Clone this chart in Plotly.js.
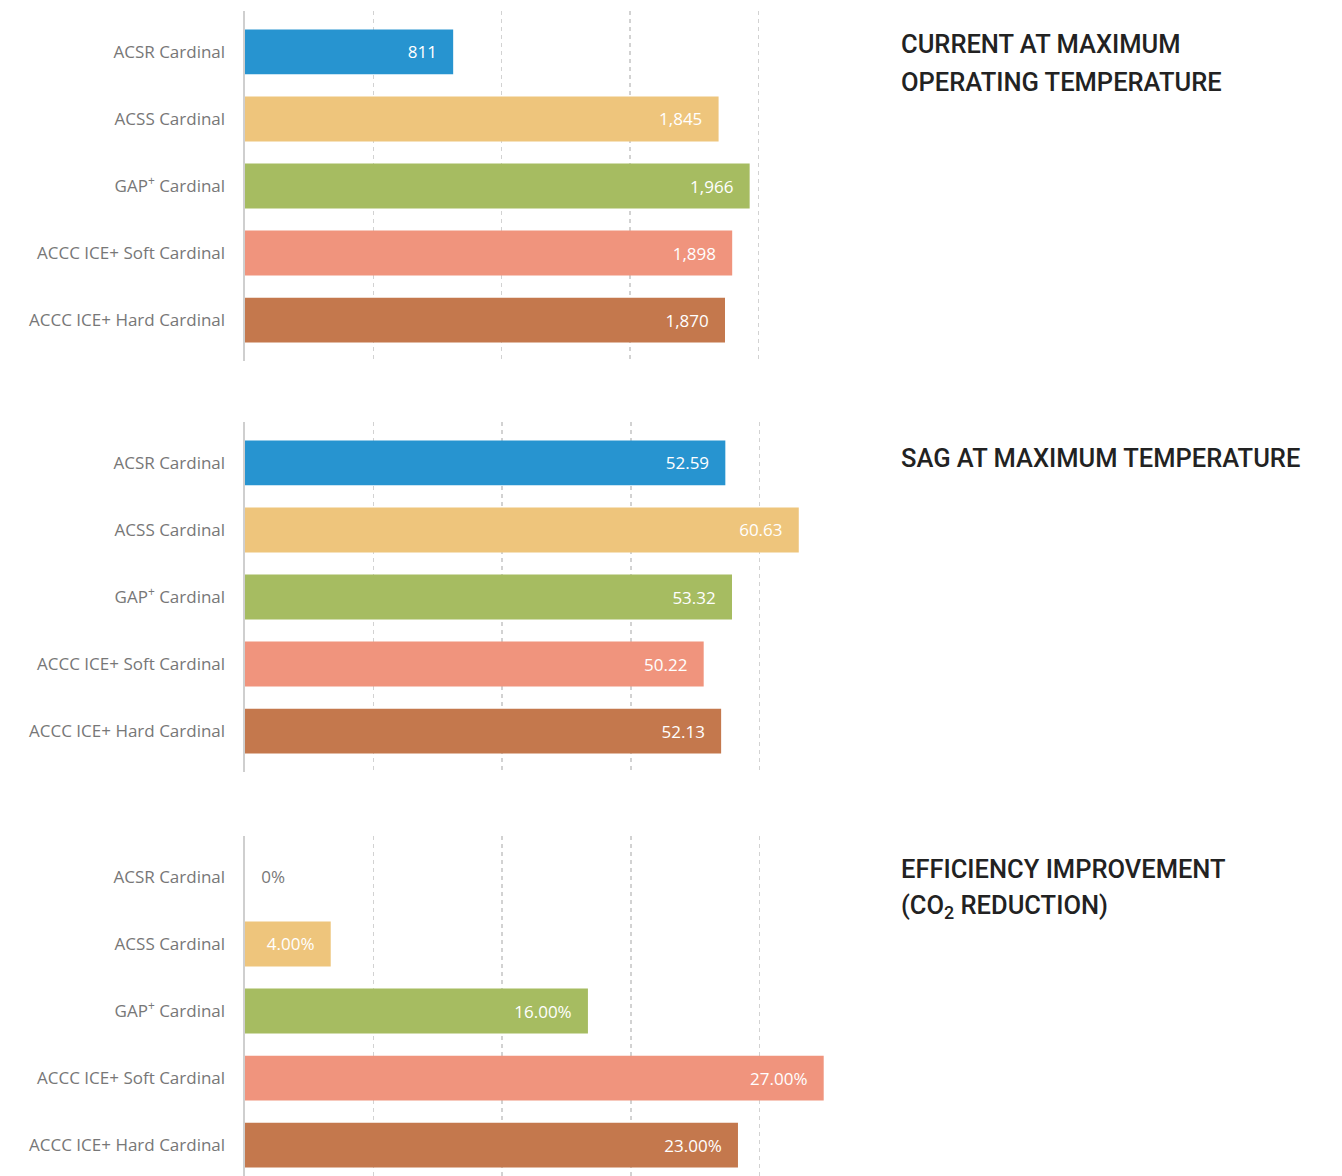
<!DOCTYPE html>
<html>
<head>
<meta charset="utf-8">
<script src="https://cdn.plot.ly/plotly-3.0.1.min.js"></script>
<style>html,body{margin:0;padding:0;background:#fff;}#chart{width:1342px;height:1176px;}</style>
</head>
<body>
<div id="chart"></div>
<script>
const categories = ["ACSR Cardinal", "ACSS Cardinal", "GAP<sup>+</sup> Cardinal", "ACCC ICE+ Soft Cardinal", "ACCC ICE+ Hard Cardinal"];
const colors = ["#2794d0", "#eec57c", "#a6bc61", "#f0947d", "#c4784d"];

const currentValues = [811, 1845, 1966, 1898, 1870];
const currentLabels = ["811", "1,845", "1,966", "1,898", "1,870"];
const currentTicks = [500, 1000, 1500, 2000];
const currentRange = [0, 2505];

const sagValues = [52.59, 60.63, 53.32, 50.22, 52.13];
const sagLabels = ["52.59", "60.63", "53.32", "50.22", "52.13"];
const sagTicks = [14.08, 28.16, 42.24, 56.32];
const sagRange = [0, 70.4];

const effValues = [0, 4, 16, 27, 23];
const effLabels = ["0%", "4.00%", "16.00%", "27.00%", "23.00%"];
const effTicks = [6, 12, 18, 24];
const effRange = [0, 30];

const titles = ["CURRENT AT MAXIMUM", "OPERATING TEMPERATURE", "SAG AT MAXIMUM TEMPERATURE", "EFFICIENCY IMPROVEMENT", "(CO<sub>2</sub> REDUCTION)"];

const W = 1342, H = 1176;
const ML = 245, MR = 454;
const PW = W - ML - MR;
const NB = "\u00a0\u00a0\u00a0";

function mkTrace(vals, labels, xa, ya) {
  const pos = vals.map(v => v === 0 ? "outside" : "inside");
  const tmpl = vals.map(v => v === 0 ? NB + "%{text}" : "%{text}" + NB);
  return {
    type: "bar", orientation: "h",
    x: vals, y: categories, text: labels,
    texttemplate: tmpl, textposition: pos,
    insidetextanchor: "end", constraintext: "none", cliponaxis: false,
    insidetextfont: {color: "#ffffff", size: 17, family: "Open Sans"},
    outsidetextfont: {color: "#777777", size: 17, family: "Open Sans"},
    marker: {color: colors, line: {width: 0}},
    xaxis: xa, yaxis: ya, hoverinfo: "skip", showlegend: false
  };
}

const data = [
  mkTrace(currentValues, currentLabels, "x", "y"),
  mkTrace(sagValues, sagLabels, "x2", "y2"),
  mkTrace(effValues, effLabels, "x3", "y3")
];

function xax(range, ticks, anchor) {
  return {
    domain: [0, 1], range: range, anchor: anchor,
    tickmode: "array", tickvals: ticks, showticklabels: false,
    showgrid: true, griddash: "4px,4px", gridcolor: "#d2d2d2", gridwidth: 1.5,
    zeroline: false, showline: false, ticks: "", fixedrange: true
  };
}
function yax(top, bottom, range, anchor) {
  return {
    domain: [1 - bottom / H, 1 - top / H], type: "category", range: range, anchor: anchor,
    showline: true, linecolor: "#cfcfcf", linewidth: 2.5, showgrid: false, zeroline: false,
    ticks: "", ticklabelstandoff: 14,
    tickfont: {family: "Open Sans", size: 17, color: "#777777"}, fixedrange: true
  };
}

function ann(text, py) {
  return {
    text: text, xref: "paper", yref: "paper",
    x: (899 - ML) / PW, y: 1 - py / H, xanchor: "left", yanchor: "middle",
    showarrow: false, align: "left",
    font: {family: "Roboto", size: 25.5, color: "#222222", weight: 500}
  };
}

const layout = {
  width: W, height: H,
  margin: {l: ML, r: MR, t: 0, b: 0, pad: 0},
  paper_bgcolor: "#ffffff", plot_bgcolor: "#ffffff",
  bargap: 0.33,
  xaxis: xax(currentRange, currentTicks, "y"),
  xaxis2: xax(sagRange, sagTicks, "y2"),
  xaxis3: xax(effRange, effTicks, "y3"),
  yaxis: yax(11, 361, [4.61, -0.61], "x"),
  yaxis2: yax(422, 772, [4.61, -0.61], "x2"),
  yaxis3: yax(836, 1176, [4.46, -0.61], "x3"),
  annotations: [
    ann(titles[0], 44), ann(titles[1], 82),
    ann(titles[2], 458),
    ann(titles[3], 869), ann(titles[4], 906)
  ]
};

Plotly.newPlot("chart", data, layout, {staticPlot: true, displayModeBar: false});
</script>
</body>
</html>
